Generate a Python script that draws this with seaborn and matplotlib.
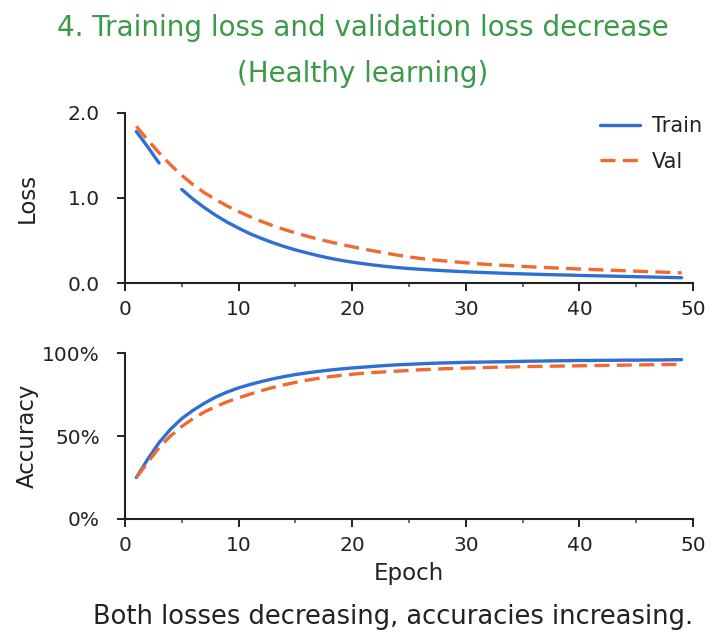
import numpy as np
import pandas as pd
import matplotlib
matplotlib.use("Agg")
import matplotlib.pyplot as plt
from matplotlib.ticker import PercentFormatter, MultipleLocator
import seaborn as sns

epochs = list(range(1, 50))

# Train loss has a visible break around epoch 4 in the reference
train_loss = [1.78, 1.60, 1.41, np.nan, 1.10, 0.985, 0.885, 0.795, 0.715, 0.645,
              0.58, 0.525, 0.475, 0.43, 0.39, 0.355, 0.322, 0.293, 0.268, 0.246,
              0.227, 0.21, 0.195, 0.182, 0.171, 0.162, 0.154, 0.146, 0.139, 0.133,
              0.127, 0.122, 0.117, 0.112, 0.108, 0.104, 0.1, 0.097, 0.094, 0.09,
              0.087, 0.084, 0.081, 0.078, 0.075, 0.072, 0.069, 0.066, 0.063]
val_loss = [1.84, 1.68, 1.53, 1.39, 1.265, 1.155, 1.06, 0.98, 0.905, 0.84,
            0.78, 0.725, 0.675, 0.63, 0.59, 0.552, 0.517, 0.485, 0.455, 0.427,
            0.40, 0.375, 0.351, 0.328, 0.307, 0.29, 0.275, 0.262, 0.25, 0.238,
            0.228, 0.219, 0.211, 0.203, 0.196, 0.189, 0.183, 0.177, 0.171, 0.165,
            0.16, 0.155, 0.15, 0.145, 0.14, 0.135, 0.13, 0.125, 0.12]
train_acc = [0.25, 0.36, 0.46, 0.54, 0.605, 0.655, 0.698, 0.735, 0.765, 0.79,
             0.81, 0.828, 0.844, 0.858, 0.870, 0.880, 0.889, 0.897, 0.904, 0.910,
             0.915, 0.920, 0.925, 0.929, 0.932, 0.935, 0.938, 0.940, 0.942, 0.944,
             0.945, 0.946, 0.947, 0.948, 0.950, 0.951, 0.952, 0.953, 0.954, 0.955,
             0.955, 0.956, 0.956, 0.957, 0.957, 0.958, 0.958, 0.959, 0.96]
val_acc = [0.25, 0.34, 0.43, 0.50, 0.558, 0.605, 0.645, 0.678, 0.706, 0.73,
           0.752, 0.773, 0.792, 0.808, 0.823, 0.836, 0.847, 0.857, 0.865, 0.872,
           0.878, 0.883, 0.887, 0.891, 0.895, 0.899, 0.902, 0.905, 0.907, 0.909,
           0.911, 0.913, 0.915, 0.916, 0.918, 0.919, 0.920, 0.921, 0.922, 0.923,
           0.924, 0.925, 0.926, 0.927, 0.928, 0.929, 0.930, 0.931, 0.932]

title_lines = ["4. Training loss and validation loss decrease", "(Healthy learning)"]
caption = "Both losses decreasing, accuracies increasing."
series_names = ["Train", "Val"]

sns.set_theme(style="ticks")
plt.rcParams['font.family'] = ['DejaVu Sans']

blue = "#2f6fd3"
orange = "#f0692e"
green = "#3a9a48"
ink = "#222222"
dash = (0, (4.5, 2.2))

# segment id so the break in the train loss curve is kept
seg = [0 if i < 3 else 1 for i in range(len(train_loss))]
df_loss = pd.DataFrame({"Epoch": epochs, "Train": train_loss, "Val": val_loss, "seg": seg})
df_acc = pd.DataFrame({"Epoch": epochs, "Train": train_acc, "Val": val_acc})

fig = plt.figure(figsize=(7.22, 6.34), dpi=100)
ax1 = fig.add_axes([0.1731, 0.5535, 0.7867, 0.2686])
ax2 = fig.add_axes([0.1731, 0.1814, 0.7867, 0.2618])

sns.lineplot(data=df_loss.dropna(), x="Epoch", y="Train", units="seg", estimator=None,
             ax=ax1, color=blue, lw=2.4)
sns.lineplot(data=df_loss, x="Epoch", y="Val", ax=ax1, color=orange, lw=2.4,
             linestyle=dash)
sns.lineplot(data=df_acc, x="Epoch", y="Train", ax=ax2, color=blue, lw=2.4)
sns.lineplot(data=df_acc, x="Epoch", y="Val", ax=ax2, color=orange, lw=2.4,
             linestyle=dash)

for ax in (ax1, ax2):
    ax.set_xlim(0, 50)
    ax.xaxis.set_major_locator(MultipleLocator(10))
    ax.xaxis.set_minor_locator(MultipleLocator(5))
    ax.tick_params(axis="both", labelsize=14.5, colors=ink, length=6, width=1.4)
    ax.tick_params(axis="x", pad=6)
    ax.tick_params(axis="y", pad=12)
    ax.tick_params(axis="x", which="minor", length=3, width=1.2, colors="#555555")
    for s in ("left", "bottom"):
        ax.spines[s].set_color(ink)
        ax.spines[s].set_linewidth(1.5)
    sns.despine(ax=ax)

ax1.set_ylim(0, 2.0)
ax1.set_yticks([0.0, 1.0, 2.0])
ax1.set_yticklabels(["0.0", "1.0", "2.0"])
ax1.set_xlabel("")
ax1.set_ylabel("Loss", fontsize=16.5, color=ink)
ax1.yaxis.set_label_coords(-0.152, 0.5)

handles = [plt.Line2D([], [], color=blue, lw=2.4),
           plt.Line2D([], [], color=orange, lw=2.4, linestyle=dash)]
leg = ax1.legend(handles, series_names, frameon=False, fontsize=15, loc="upper left",
                 bbox_to_anchor=(0.822, 1.03), borderaxespad=0, handlelength=1.9,
                 handletextpad=0.6, labelspacing=0.75)
for t in leg.get_texts():
    t.set_color(ink)

ax2.set_ylim(0, 1.0)
ax2.set_yticks([0, 0.5, 1.0])
ax2.yaxis.set_major_formatter(PercentFormatter(1.0, decimals=0))
ax2.set_xlabel("Epoch", fontsize=16.5, color=ink, labelpad=5)
ax2.set_ylabel("Accuracy", fontsize=16.5, color=ink)
ax2.yaxis.set_label_coords(-0.152, 0.5)

fig.text(0.502, 0.943, title_lines[0], ha="center", va="baseline", fontsize=20, color=green)
fig.text(0.502, 0.871, title_lines[1], ha="center", va="baseline", fontsize=20, color=green)
fig.text(0.545, 0.015, caption, ha="center", va="baseline", fontsize=18.5, color=ink)

fig.savefig("out.png", dpi=100)
